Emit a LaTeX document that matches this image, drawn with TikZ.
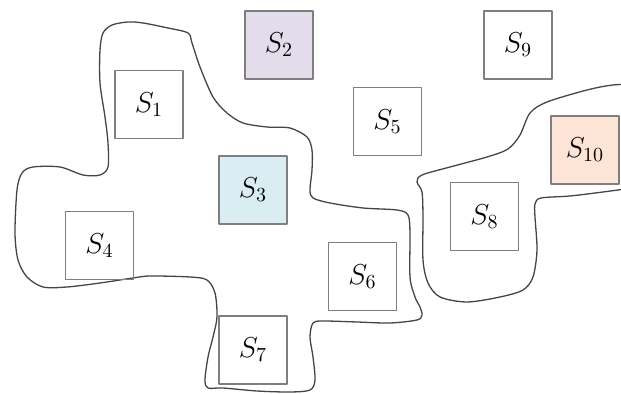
\documentclass[tikz,border=0pt]{standalone}
\usepackage{xcolor}
\usepackage{tikz}
\usepackage{amsmath,amssymb}

\definecolor{setpurple}{HTML}{E3DCEA}
\definecolor{setblue}{HTML}{DAEDF3}
\definecolor{setorange}{HTML}{FCE4D6}
\definecolor{boxgray}{HTML}{7F7F7F}
\definecolor{blobgray}{HTML}{454545}

\begin{document}
\begin{tikzpicture}[
      x=0.5pt, y=-0.5pt,
      line cap=round,
      line join=round,
      sbox/.style={draw=boxgray, line width=0.9pt, minimum size=34pt,
        inner sep=0pt, font=\fontsize{14}{16}\selectfont},
      blob/.style={draw=blobgray, line width=0.65pt},
    ]
    \useasboundingbox (0,0) rectangle (621,394);
    %% Left cluster outline.
    \draw[blob] plot[smooth cycle, tension=0.5] coordinates {
      (100,50) (103,33) (112,25) (128,22) (143,23) (168,28) (188,33)
      (192,43) (200,67) (213,97) (227,113) (243,123) (267,127) (290,128)
      (307,137) (312,150) (312,170) (310,190) (313,198) (330,203)
      (363,208) (397,210) (408,215) (410,233) (410,277) (415,297)
      (420,307) (422,315) (417,320) (390,323) (357,322) (323,321)
      (313,323) (310,337) (313,357) (315,380) (310,390) (290,392)
      (257,391) (223,388) (208,388) (205,380) (208,357) (213,337)
      (217,317) (215,293) (207,280) (190,277) (150,276) (133,278)
      (100,283) (67,287) (43,287) (27,277) (18,260) (15,233) (17,190)
      (22,173) (33,167) (60,167) (83,175) (100,175) (108,167) (108,143)
      (105,117) (100,83)};
    %% Right cluster outline, cut off by the right border.
    \begin{scope}
      \clip (0,0) rectangle (621,394);
      \draw[blob] plot[smooth, tension=0.5] coordinates {
        (640,84) (613,85) (587,90) (547,102) (530,113) (520,135)
        (508,149) (487,157) (450,167) (422,175) (417,182) (422,192)
        (423,217) (423,260) (428,283) (440,297) (467,302) (500,297)
        (523,290) (533,277) (537,250) (535,217) (535,204) (541,198)
        (570,196) (603,192) (640,187)};
    \end{scope}
    %% Sensor boxes.
    \node[sbox]                 (s1)  at (149,104.5) {$S_1$};
    \node[sbox, fill=setpurple] (s2)  at (279,45)    {$S_2$};
    \node[sbox, fill=setblue]   (s3)  at (253,190)   {$S_3$};
    \node[sbox]                 (s4)  at (99.5,245.5) {$S_4$};
    \node[sbox]                 (s5)  at (387.5,121.5) {$S_5$};
    \node[sbox]                 (s6)  at (362.5,276.5) {$S_6$};
    \node[sbox]                 (s7)  at (253,350)   {$S_7$};
    \node[sbox]                 (s8)  at (484.5,216.5) {$S_8$};
    \node[sbox]                 (s9)  at (518,45)    {$S_9$};
    \node[sbox, fill=setorange] (s10) at (585,150)   {$S_{10}$};
  \end{tikzpicture}
\end{document}
